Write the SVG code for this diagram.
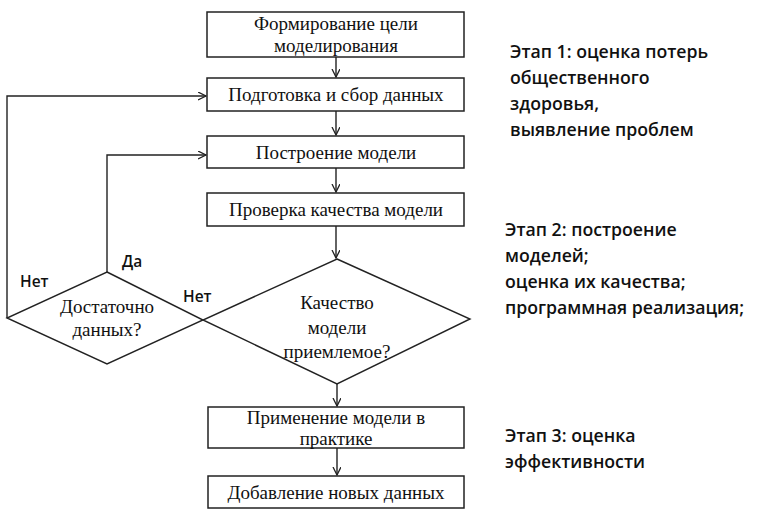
<svg xmlns="http://www.w3.org/2000/svg" width="768" height="524" viewBox="0 0 768 524">
<style>
.box{fill:#fff;stroke:#222;stroke-width:1.5}
.dia{fill:none;stroke:#222;stroke-width:1.4}
.t{font-family:"Liberation Serif","Times New Roman",serif;font-size:19px;fill:#111;text-anchor:middle}
.c{fill:none;stroke:#222;stroke-width:1.4}
.lab{font-family:"Open Sans","Noto Sans",sans-serif;font-weight:600;font-size:15.5px;fill:#111}
.st{font-family:"Open Sans","Noto Sans",sans-serif;font-weight:600;font-size:17.7px;fill:#111}
</style>
<defs>
<marker id="ah" markerWidth="10" markerHeight="10" refX="8" refY="4" orient="auto" markerUnits="userSpaceOnUse">
<path d="M0,0 L8,4 L0,8" fill="none" stroke="#222" stroke-width="1.3"/>
</marker>
</defs>
<rect width="768" height="524" fill="#fff"/>
<g id="connectors">
<line class="c" x1="336" y1="57" x2="336" y2="77" marker-end="url(#ah)"/>
<line class="c" x1="336" y1="111" x2="336" y2="135" marker-end="url(#ah)"/>
<line class="c" x1="336" y1="168" x2="336" y2="192" marker-end="url(#ah)"/>
<line class="c" x1="336" y1="226" x2="336" y2="258" marker-end="url(#ah)"/>
<line class="c" x1="337" y1="384" x2="337" y2="406" marker-end="url(#ah)"/>
<line class="c" x1="337" y1="448" x2="337" y2="475" marker-end="url(#ah)"/>
<polyline class="c" points="7,318 7,96 206,96" marker-end="url(#ah)"/>
<polyline class="c" points="107,272 107,155 206,155" marker-end="url(#ah)"/>
</g>
<g id="n1"><rect class="box" x="207" y="12" width="257" height="45"/>
<text class="t" x="336" y="30">Формирование цели</text><text class="t" x="336" y="52">моделирования</text></g>
<g id="n2"><rect class="box" x="207" y="78" width="257" height="33"/>
<text class="t" x="336" y="101">Подготовка и сбор данных</text></g>
<g id="n3"><rect class="box" x="207" y="136" width="257" height="32"/>
<text class="t" x="336" y="159">Построение модели</text></g>
<g id="n4"><rect class="box" x="207" y="193" width="257" height="33"/>
<text class="t" x="336" y="216">Проверка качества модели</text></g>
<g id="d1"><polygon class="dia" points="107,272 203,320 107,364 7,318"/>
<text class="t" x="107" y="313">Достаточно</text><text class="t" x="107" y="336">данных?</text></g>
<g id="d2"><polygon class="dia" points="337,259 470,319 337,384 203,320"/>
<text class="t" x="337" y="309">Качество</text><text class="t" x="337" y="334">модели</text><text class="t" x="337" y="358">приемлемое?</text></g>
<g id="n5"><rect class="box" x="208" y="407" width="256" height="41"/>
<text class="t" x="336" y="424">Применение модели в</text><text class="t" x="336" y="445">практике</text></g>
<g id="n6"><rect class="box" x="208" y="476" width="256" height="32"/>
<text class="t" x="336" y="499">Добавление новых данных</text></g>
<g id="labels">
<text class="lab" x="20" y="287">Нет</text>
<text class="lab" x="122" y="267">Да</text>
<text class="lab" x="183" y="302">Нет</text>
</g>
<g id="stages">
<text class="st" x="510" y="58">Этап 1: оценка потерь</text>
<text class="st" x="510" y="84">общественного</text>
<text class="st" x="510" y="110">здоровья,</text>
<text class="st" x="510" y="136">выявление проблем</text>
<text class="st" x="505" y="236">Этап 2: построение</text>
<text class="st" x="505" y="262">моделей;</text>
<text class="st" x="505" y="288">оценка их качества;</text>
<text class="st" x="505" y="314">программная реализация;</text>
<text class="st" x="505" y="442">Этап 3: оценка</text>
<text class="st" x="505" y="468">эффективности</text>
</g>
</svg>
